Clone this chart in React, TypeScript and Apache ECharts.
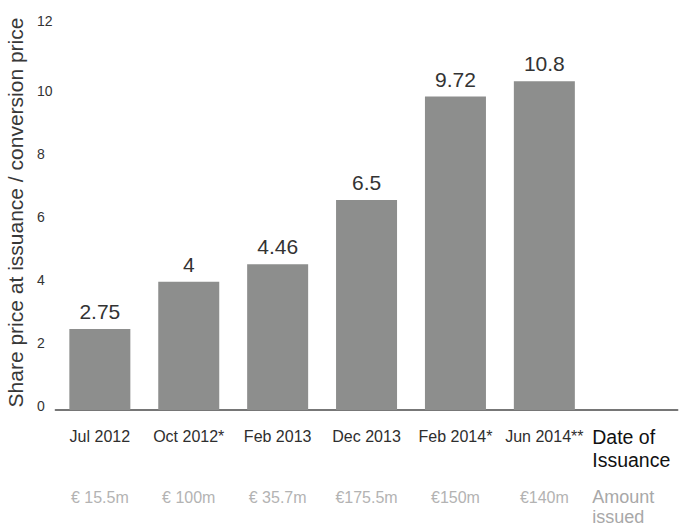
import React, { useEffect, useRef } from "react";
import * as echarts from "echarts";

// Data
const dates = ["Jul 2012", "Oct 2012*", "Feb 2013", "Dec 2013", "Feb 2014*", "Jun 2014**"];
const barHeights = [2.57, 4.07, 4.63, 6.67, 9.95, 10.44];
const priceLabels = ["2.75", "4", "4.46", "6.5", "9.72", "10.8"];
const amounts = ["€ 15.5m", "€ 100m", "€ 35.7m", "€175.5m", "€150m", "€140m"];
const dateHeader = ["Date of", "Issuance"];
const amountHeader = ["Amount", "issued"];
const yAxisTitle = "Share price at issuance / conversion price";
const yMin = 0;
const yMax = 12;
const yStep = 2;

const FONT = "Liberation Sans";

export default function App() {
  const ref = useRef<HTMLDivElement>(null);

  useEffect(() => {
    document.body.style.margin = "0";
    if (!ref.current) return;
    const chart = echarts.init(ref.current, undefined, { renderer: "svg" });

    const dateCats = [...dates, dateHeader.join(" ")];
    const amountCats = [...amounts, amountHeader.join(" ")];

    chart.setOption({
      animation: false,
      backgroundColor: "#ffffff",
      textStyle: { fontFamily: FONT },
      grid: {
        left: 55.4,
        right: 2.3,
        top: 32,
        bottom: 117,
        containLabel: false,
        outerBoundsMode: "none",
      },
      xAxis: [
        {
          type: "category",
          data: dateCats,
          position: "bottom",
          axisLine: { show: true, lineStyle: { color: "#4a4a4a", width: 1.5 } },
          axisTick: { show: false },
          splitLine: { show: false },
          axisLabel: {
            interval: 0,
            margin: 15,
            formatter: (v: string, i: number) =>
              i === dates.length
                ? `{h|${dateHeader[0]}}\n{h|${dateHeader[1]}}`
                : `{d|${v}}`,
            rich: {
              d: { fontFamily: FONT, fontSize: 16, color: "#2e2e2e", lineHeight: 23 },
              h: {
                fontFamily: FONT,
                fontSize: 19.5,
                color: "#111111",
                lineHeight: 23,
                width: 82,
                align: "left",
              },
            },
          },
        },
        {
          type: "category",
          data: amountCats,
          position: "bottom",
          offset: 60,
          axisLine: { show: false },
          axisTick: { show: false },
          splitLine: { show: false },
          axisLabel: {
            interval: 0,
            margin: 17,
            formatter: (v: string, i: number) =>
              i === amounts.length
                ? `{h|${amountHeader[0]}}\n{h|${amountHeader[1]}}`
                : `{a|${v}}`,
            rich: {
              a: { fontFamily: FONT, fontSize: 16, color: "#b3b3b3", lineHeight: 20 },
              h: {
                fontFamily: FONT,
                fontSize: 18,
                color: "#a8a8a8",
                lineHeight: 20,
                width: 82,
                align: "left",
              },
            },
          },
        },
      ],
      yAxis: {
        type: "value",
        min: yMin,
        max: yMax,
        interval: yStep,
        name: yAxisTitle,
        nameLocation: "middle",
        nameGap: 26,
        nameTextStyle: {
          fontFamily: FONT,
          fontSize: 21,
          color: "#383838",
          padding: [0, 0, 0, 17],
        },
        axisLine: { show: false },
        axisTick: { show: false },
        splitLine: { show: false },
        axisLabel: {
          align: "left",
          margin: 18.4,
          padding: [0, 0, 9, 0],
          formatter: (v: number) => (v === yMax ? `{t|${v}}` : `{n|${v}}`),
          rich: {
            n: { fontFamily: FONT, fontSize: 14, color: "#333333" },
            t: { fontFamily: FONT, fontSize: 14, color: "#333333", padding: [0, 0, 14, 0] },
          },
        },
      },
      series: [
        {
          type: "bar",
          xAxisIndex: 0,
          data: barHeights,
          barWidth: 61,
          itemStyle: { color: "#8d8e8d" },
          label: {
            show: true,
            position: "top",
            distance: 7,
            fontFamily: FONT,
            fontSize: 21,
            color: "#333333",
            formatter: (p: any) => priceLabels[p.dataIndex],
          },
        },
      ],
    });

    return () => chart.dispose();
  }, []);

  return <div ref={ref} style={{ width: 680, height: 527 }} />;
}
